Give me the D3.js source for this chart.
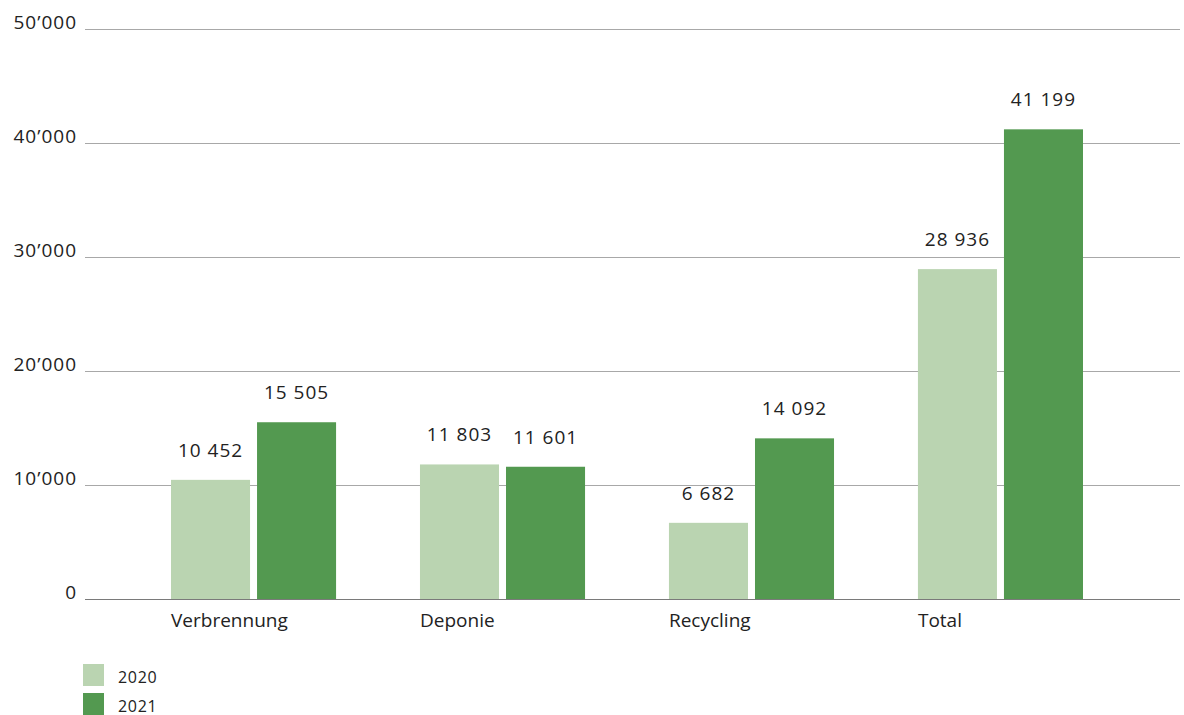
<!DOCTYPE html>
<html>
<head>
<meta charset="utf-8">
<script src="https://cdn.jsdelivr.net/npm/d3@7"></script>
<style>
  body { margin: 0; background: #fff; }
  svg { display: block; font-family: "Open Sans", "Noto Sans", sans-serif; }
</style>
</head>
<body>
<div id="container"></div>
<script>
// Daten
const categories = ['Verbrennung', 'Deponie', 'Recycling', 'Total'];
const years = ['2020', '2021'];
const values2020 = [10452, 11803, 6682, 28936];
const values2021 = [15505, 11601, 14092, 41199];
const yTicks = [0, 10000, 20000, 30000, 40000, 50000];

const colors = { '2020': '#bad4b1', '2021': '#539950' };

const width = 1184;
const height = 715;

const svg = d3.select('#container')
  .append('svg')
  .attr('width', width)
  .attr('height', height);

// Skalen
const x = d3.scaleBand().domain(categories).range([171, 1083]).paddingInner(0.337).paddingOuter(0);
const xSub = d3.scaleBand().domain(years).range([0, x.bandwidth()]).paddingInner(0.0814);
const y = d3.scaleLinear().domain([0, 50000]).range([599, 29]);

const tickFmt = d => d === 0 ? '0' : d3.format(',')(d).replace(/,/g, '\u2019');
const valueFmt = d => d3.format(',')(d).replace(/,/g, ' ');

// Gitterlinien und Achsenbeschriftung
svg.append('g')
  .selectAll('line')
  .data(yTicks)
  .join('line')
  .attr('x1', 85)
  .attr('x2', 1180)
  .attr('y1', d => y(d) + 0.5)
  .attr('y2', d => y(d) + 0.5)
  .attr('stroke', d => d === 0 ? '#7a7a7a' : '#a8a8a8')
  .attr('stroke-width', 1);

svg.append('g')
  .selectAll('text')
  .data(yTicks)
  .join('text')
  .attr('x', 77)
  .attr('y', d => y(d))
  .attr('text-anchor', 'end')
  .attr('font-size', 19)
  .attr('letter-spacing', 1)
  .attr('fill', '#222')
  .text(tickFmt);

// Balken
const rows = categories.map((c, i) => ({
  category: c,
  items: [
    { year: '2020', value: values2020[i] },
    { year: '2021', value: values2021[i] },
  ],
}));

const groups = svg.append('g')
  .selectAll('g')
  .data(rows)
  .join('g')
  .attr('transform', d => `translate(${x(d.category)},0)`);

groups.selectAll('rect')
  .data(d => d.items)
  .join('rect')
  .attr('x', d => xSub(d.year))
  .attr('y', d => y(d.value))
  .attr('width', xSub.bandwidth())
  .attr('height', d => y(0) - y(d.value))
  .attr('fill', d => colors[d.year]);

groups.selectAll('text.value')
  .data(d => d.items)
  .join('text')
  .attr('class', 'value')
  .attr('x', d => xSub(d.year) + xSub.bandwidth() / 2)
  .attr('y', d => y(d.value) - 23)
  .attr('text-anchor', 'middle')
  .attr('font-size', 19)
  .attr('letter-spacing', 1)
  .attr('fill', '#222')
  .text(d => valueFmt(d.value));

// Kategorienbeschriftung
svg.append('g')
  .selectAll('text')
  .data(categories)
  .join('text')
  .attr('x', d => x(d))
  .attr('y', 627)
  .attr('font-size', 19)
  .attr('fill', '#222')
  .text(d => d);

// Legende
const legend = svg.append('g')
  .selectAll('g')
  .data(years)
  .join('g')
  .attr('transform', (d, i) => `translate(83, ${664 + i * 29})`);

legend.append('rect')
  .attr('width', 21)
  .attr('height', 22)
  .attr('fill', d => colors[d]);

legend.append('text')
  .attr('x', 35)
  .attr('y', 19)
  .attr('font-size', 16)
  .attr('letter-spacing', 0.7)
  .attr('fill', '#222')
  .text(d => d);
</script>
</body>
</html>
